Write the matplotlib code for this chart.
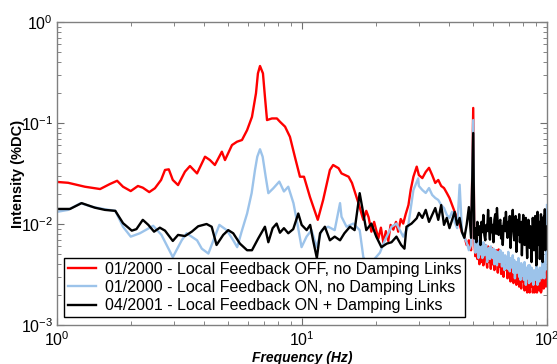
import numpy as np
import matplotlib
matplotlib.use("Agg")
import matplotlib.pyplot as plt
from matplotlib.ticker import LogLocator, NullFormatter

plt.rcParams['font.family'] = ['Liberation Sans', 'DejaVu Sans']
plt.rcParams['mathtext.fontset'] = 'custom'
plt.rcParams['mathtext.rm'] = 'Liberation Sans'
plt.rcParams['mathtext.it'] = 'Liberation Sans:italic'
plt.rcParams['mathtext.bf'] = 'Liberation Sans:bold'

# spectra:
# low part on irregular freqs, 30-49 Hz on a 1 Hz grid, 50-100 Hz on a 0.5 Hz grid
mid_f = list(range(30, 50))
top_f = [50 + 0.5 * k for k in range(101)]

red_lo_f = [1.0, 1.11, 1.30, 1.50, 1.645, 1.76, 1.86, 2.0, 2.14, 2.24, 2.38, 2.51, 2.66, 2.76, 2.86,
            2.97, 3.12, 3.33, 3.49, 3.73, 4.02, 4.21, 4.41, 4.71, 4.85, 5.18, 5.43, 5.69, 5.97, 6.25,
            6.49, 6.61, 6.74, 6.93, 7.06, 7.20, 7.54, 7.90, 8.13, 8.53, 8.93, 9.36, 9.81, 10.19, 10.78,
            11.6, 12.2, 13.0, 13.4, 14.1, 14.5, 15.5, 16.0, 17.0, 17.8, 18.3, 18.7, 19.2, 19.7, 20.5,
            21.0, 21.5, 22.0, 22.5, 23.0, 23.6, 24.2, 24.7, 25.3, 25.9, 26.5, 27.2, 27.8, 28.5, 29.4]
red_lo_i = [0.0261, 0.0256, 0.0234, 0.0222, 0.0249, 0.0268, 0.0234, 0.0212, 0.0238, 0.0229, 0.0207,
            0.0226, 0.0273, 0.0343, 0.0348, 0.0273, 0.0243, 0.0330, 0.0375, 0.0317, 0.0464, 0.0430,
            0.0384, 0.0520, 0.0430, 0.0605, 0.0653, 0.0679, 0.0850, 0.115, 0.197, 0.310, 0.367, 0.310,
            0.182, 0.107, 0.111, 0.111, 0.103, 0.092, 0.073, 0.046, 0.0294, 0.0294, 0.0185, 0.0110,
            0.0173, 0.0343, 0.0384, 0.0357, 0.0317, 0.0294, 0.0255, 0.0161, 0.0110, 0.0135, 0.0117,
            0.0084, 0.0105, 0.0072, 0.0092, 0.0065, 0.0085, 0.0068, 0.0098, 0.0088, 0.0105, 0.0084,
            0.0112, 0.0101, 0.0125, 0.0154, 0.0220, 0.0294, 0.0370]
red_mid_i = [0.0305, 0.0285, 0.0328, 0.0360, 0.0305, 0.0255, 0.0273, 0.0238, 0.0227, 0.0203,
             0.0181, 0.0154, 0.0132, 0.0115, 0.0098, 0.0083, 0.0076, 0.0062, 0.0069, 0.0055]
red_top_i = [0.141, 0.0070, 0.0048, 0.0066, 0.0045, 0.0060, 0.0040, 0.0064, 0.0042, 0.0058,
             0.0039, 0.0052, 0.0062, 0.0044, 0.0037, 0.0060, 0.0042, 0.0052, 0.0036, 0.0058,
             0.0040, 0.0050, 0.0035, 0.0041, 0.0055, 0.0048, 0.0033, 0.0056, 0.0038, 0.0046,
             0.0032, 0.0050, 0.0036, 0.0030, 0.0044, 0.0048, 0.0035, 0.0042, 0.0029, 0.0046,
             0.0033, 0.0040, 0.0027, 0.0044, 0.0031, 0.0038, 0.0026, 0.0030, 0.0042, 0.0036,
             0.0025, 0.0040, 0.0029, 0.0035, 0.0024, 0.0038, 0.0028, 0.0023, 0.0034, 0.0037,
             0.0027, 0.0032, 0.0022, 0.0035, 0.0026, 0.0031, 0.0021, 0.0034, 0.0025, 0.0030,
             0.0021, 0.0033, 0.0024, 0.0029, 0.0032, 0.0021, 0.0023, 0.0029, 0.0021, 0.0032,
             0.0024, 0.0030, 0.0021, 0.0033, 0.0024, 0.0029, 0.0022, 0.0034, 0.0025, 0.0021,
             0.0022, 0.0035, 0.0026, 0.0031, 0.0023, 0.0036, 0.0027, 0.0032, 0.0024, 0.0037,
             0.0028]

blue_lo_f = [1.0, 1.11, 1.25, 1.39, 1.57, 1.73, 1.86, 2.0, 2.18, 2.47, 2.67, 2.97, 3.23, 3.38, 3.73,
             3.90, 4.15, 4.35, 4.60, 4.93, 5.24, 5.44, 5.67, 5.97, 6.23, 6.43, 6.57, 6.74, 6.91, 7.11,
             7.29, 7.64, 8.08, 8.44, 8.79, 9.23, 9.63, 9.96, 10.44, 10.94, 11.47, 12.03, 12.79, 13.6,
             14.3, 14.5, 15.2, 16.2, 17.2, 17.8, 18.4, 19.6, 20.8, 21.8, 23.2, 24.3, 25.9, 27.1, 28.5,
             29.8]
blue_lo_i = [0.0132, 0.0138, 0.0161, 0.0148, 0.0140, 0.0135, 0.0094, 0.0075, 0.0081, 0.0096, 0.0078,
             0.0047, 0.0069, 0.0081, 0.0069, 0.0057, 0.0051, 0.0069, 0.0098, 0.0087, 0.0069, 0.0059,
             0.0084, 0.0127, 0.0202, 0.0343, 0.0464, 0.055, 0.0464, 0.0294, 0.0202, 0.0226, 0.0263,
             0.021, 0.0234, 0.0161, 0.0094, 0.0059, 0.0075, 0.0087, 0.0059, 0.0087, 0.0094, 0.0087,
             0.0161, 0.0118, 0.0094, 0.0101, 0.0087, 0.0047, 0.0041, 0.0044, 0.0052, 0.0069, 0.0094,
             0.0101, 0.0075, 0.0094, 0.0217, 0.0283]
blue_mid_i = [0.0238, 0.0217, 0.0203, 0.0227, 0.0194, 0.0181, 0.0173, 0.0154, 0.0144, 0.0123,
              0.0115, 0.0132, 0.0105, 0.0091, 0.0245, 0.0083, 0.0073, 0.0066, 0.0055, 0.0062]
blue_top_i = [0.107, 0.0075, 0.0052, 0.0069, 0.0058, 0.0046, 0.0069, 0.0050, 0.0062, 0.0046,
              0.0066, 0.0049, 0.0058, 0.0062, 0.0042, 0.0055, 0.0058, 0.0045, 0.0060, 0.0048,
              0.0046, 0.0057, 0.0040, 0.0055, 0.0049, 0.0039, 0.0053, 0.0046, 0.0042, 0.0055,
              0.0050, 0.0038, 0.0052, 0.0044, 0.0035, 0.0049, 0.0042, 0.0047, 0.0036, 0.0053,
              0.0040, 0.0034, 0.0046, 0.0041, 0.0037, 0.0049, 0.0033, 0.0044, 0.0029, 0.0040,
              0.0042, 0.0033, 0.0035, 0.0046, 0.0030, 0.0039, 0.0028, 0.0041, 0.0035, 0.0031,
              0.0039, 0.0028, 0.0042, 0.0033, 0.0025, 0.0037, 0.0031, 0.0029, 0.0039, 0.0026,
              0.0039, 0.0030, 0.0027, 0.0037, 0.0028, 0.0035, 0.0025, 0.0033, 0.0029, 0.0035,
              0.0028, 0.0039, 0.0031, 0.0025, 0.0035, 0.0029, 0.0027, 0.0037, 0.0030, 0.0033,
              0.0029, 0.0037, 0.0042, 0.0031, 0.0036, 0.0029, 0.0042, 0.0035, 0.0055, 0.0090,
              0.0154]

black_lo_f = [1.0, 1.13, 1.26, 1.43, 1.57, 1.73, 1.86, 2.02, 2.11, 2.24, 2.36, 2.49, 2.63, 2.76, 2.97,
              3.12, 3.33, 3.55, 3.77, 4.08, 4.28, 4.48, 4.77, 5.0, 5.24, 5.58, 5.97, 6.25, 6.63, 7.06,
              7.29, 7.59, 7.88, 8.13, 8.44, 8.79, 9.21, 9.66, 9.97, 10.45, 10.8, 11.1, 11.5, 11.85,
              12.4, 13.0, 13.6, 14.3, 14.9, 15.7, 16.4, 17.2, 17.8, 18.3, 19.2, 20.1, 21.1, 22.2,
              23.2, 24.3, 25.4, 26.2, 26.7, 28.0, 29.4]
black_lo_i = [0.0141, 0.0141, 0.0161, 0.0145, 0.0138, 0.0135, 0.0102, 0.0086, 0.0089, 0.0110, 0.0098,
              0.0084, 0.0092, 0.0086, 0.0068, 0.0078, 0.0076, 0.0084, 0.0095, 0.0100, 0.0094, 0.0062,
              0.0078, 0.0087, 0.0081, 0.0064, 0.0055, 0.0055, 0.0072, 0.0094, 0.0066, 0.0091, 0.0101,
              0.0082, 0.0091, 0.0081, 0.0089, 0.0127, 0.0098, 0.0087, 0.0098, 0.0069, 0.0046, 0.0081,
              0.0094, 0.0069, 0.0075, 0.0069, 0.0081, 0.0094, 0.0087, 0.0202, 0.0127, 0.0087, 0.0101,
              0.0075, 0.0059, 0.0064, 0.0066, 0.0075, 0.0062, 0.0057, 0.0094, 0.0101, 0.0114]
black_mid_i = [0.0129, 0.0115, 0.0138, 0.0105, 0.0123, 0.0144, 0.0110, 0.0154, 0.0098, 0.0115,
               0.0091, 0.0110, 0.0132, 0.0098, 0.0115, 0.0083, 0.0073, 0.0098, 0.0147, 0.0073]
black_top_i = [0.0796, 0.0072, 0.0091, 0.0066, 0.0105, 0.0078, 0.0095, 0.0062, 0.0105, 0.0083,
               0.0123, 0.0078, 0.0069, 0.0098, 0.0085, 0.0138, 0.0090, 0.0070, 0.0115, 0.0083,
               0.0098, 0.0066, 0.0110, 0.0125, 0.0080, 0.0144, 0.0098, 0.0078, 0.0105, 0.0110,
               0.0072, 0.0095, 0.0062, 0.0098, 0.0115, 0.0085, 0.0132, 0.0090, 0.0073, 0.0105,
               0.0080, 0.0120, 0.0058, 0.0091, 0.0100, 0.0138, 0.0085, 0.0069, 0.0098, 0.0120,
               0.0053, 0.0087, 0.0110, 0.0078, 0.0125, 0.0066, 0.0091, 0.0105, 0.0049, 0.0083,
               0.0123, 0.0090, 0.0062, 0.0098, 0.0115, 0.0075, 0.0046, 0.0078, 0.0110, 0.0092,
               0.0058, 0.0095, 0.0087, 0.0042, 0.0073, 0.0115, 0.0085, 0.0055, 0.0091, 0.0120,
               0.0068, 0.0039, 0.0069, 0.0132, 0.0090, 0.0062, 0.0105, 0.0045, 0.0078, 0.0125,
               0.0060, 0.0098, 0.0042, 0.0085, 0.0118, 0.0070, 0.0140, 0.0055, 0.0095, 0.0065,
               0.0078]

labels = ["01/2000 - Local Feedback OFF, no Damping Links",
          "01/2000 - Local Feedback ON, no Damping Links",
          "04/2001 - Local Feedback ON + Damping Links"]
colors = ['#ff0000', '#9cc3ea', '#000000']

fig = plt.figure(figsize=(5.57, 3.64), dpi=100)
ax = fig.add_axes([0.1023, 0.1071, 0.8797, 0.8324])

series = [(red_lo_f + mid_f + top_f, red_lo_i + red_mid_i + red_top_i),
          (blue_lo_f + mid_f + top_f, blue_lo_i + blue_mid_i + blue_top_i),
          (black_lo_f + mid_f + top_f, black_lo_i + black_mid_i + black_top_i)]
for (f, v), c, lab in zip(series, colors, labels):
    ax.plot(f, v, color=c, lw=1.7, label=lab)

ax.set_xscale('log')
ax.set_yscale('log')
ax.set_xlim(1, 100)
ax.set_ylim(1e-3, 1)

ax.xaxis.set_major_locator(LogLocator(base=10, numticks=5))
ax.yaxis.set_major_locator(LogLocator(base=10, numticks=5))
ax.xaxis.set_minor_locator(LogLocator(base=10, subs=np.arange(2, 10), numticks=20))
ax.yaxis.set_minor_locator(LogLocator(base=10, subs=np.arange(2, 10), numticks=20))
ax.xaxis.set_minor_formatter(NullFormatter())
ax.yaxis.set_minor_formatter(NullFormatter())

for s in ax.spines.values():
    s.set_color('#808080')
    s.set_linewidth(1.0)
ax.tick_params(which='both', direction='in', top=True, right=True, color='#707070', labelsize=11.5)
ax.tick_params(which='major', length=5)
ax.tick_params(which='minor', length=3)
ax.tick_params(axis='x', pad=4)
ax.tick_params(axis='y', pad=3)

ax.set_xlabel('Frequency (Hz)', fontsize=10, fontweight='bold', fontstyle='italic')
ax.set_ylabel('Intensity (%DC)', fontsize=10.5, fontweight='bold')
ax.xaxis.set_label_coords(0.5, -0.085)
ax.yaxis.set_label_coords(-0.066, 0.5)

leg = ax.legend(loc='lower left', bbox_to_anchor=(0.014, 0.026), borderaxespad=0,
                fontsize=11.5, frameon=True, fancybox=False, handlelength=1.75,
                handletextpad=0.55, labelspacing=0.2, borderpad=0.25)
leg.get_frame().set_edgecolor('black')
leg.get_frame().set_linewidth(1.0)
leg.get_frame().set_alpha(1)

fig.savefig('out.png', dpi=100)
